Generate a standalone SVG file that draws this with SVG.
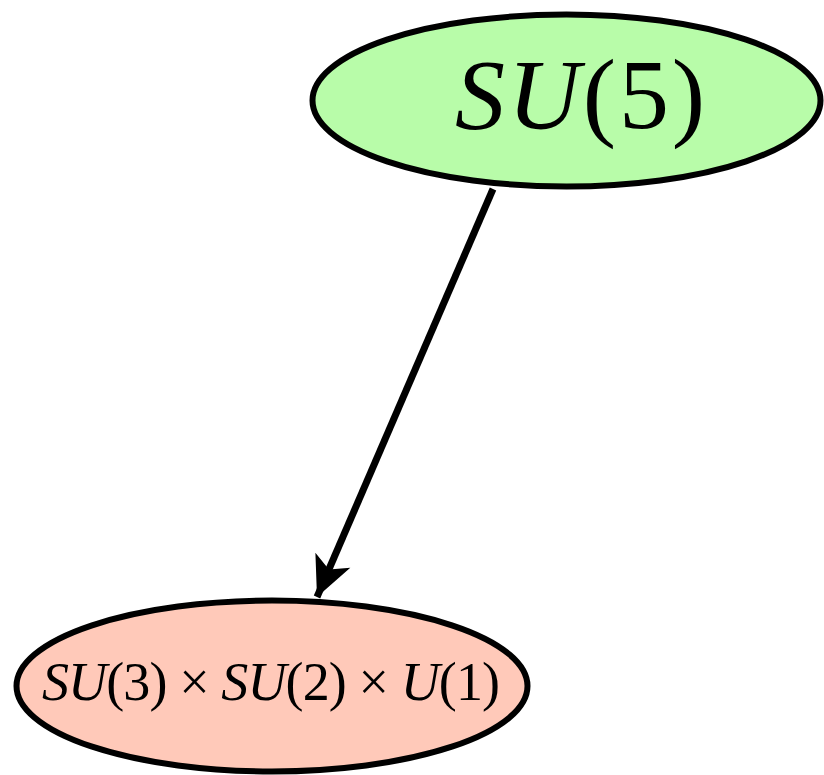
<svg xmlns="http://www.w3.org/2000/svg" width="824" height="775" viewBox="0 0 824 775">
<defs>
<style>
.node{stroke:#000;stroke-width:6}
.lbl{font-family:"Liberation Serif","DejaVu Serif",serif;fill:#000;text-anchor:middle}
.it{font-style:italic}
.edge{stroke:#000;stroke-width:7;fill:none}
</style>
<marker id="arr" markerUnits="userSpaceOnUse" markerWidth="48" markerHeight="48" viewBox="0 0 48 48" refX="44" refY="24" orient="auto">
<path d="M44,24 L4,5 L14,24 L4,43 Z" fill="#000"/>
</marker>
</defs>
<g id="connectors">
<line class="edge" x1="493" y1="189" x2="317" y2="597" marker-end="url(#arr)"/>
</g>
<g id="su5">
<ellipse class="node" cx="566.5" cy="100.5" rx="254" ry="86" fill="#b8fca9"/>
<text class="lbl" x="580" y="128" font-size="100" textLength="250" lengthAdjust="spacing"><tspan class="it">SU</tspan>(5)</text>
</g>
<g id="sm">
<ellipse class="node" cx="272" cy="686" rx="255.5" ry="85.5" fill="#ffc9b9"/>
<text class="lbl" x="271" y="700" font-size="54" textLength="458" lengthAdjust="spacing"><tspan class="it">SU</tspan>(3) × <tspan class="it">SU</tspan>(2) × <tspan class="it">U</tspan>(1)</text>
</g>
</svg>
